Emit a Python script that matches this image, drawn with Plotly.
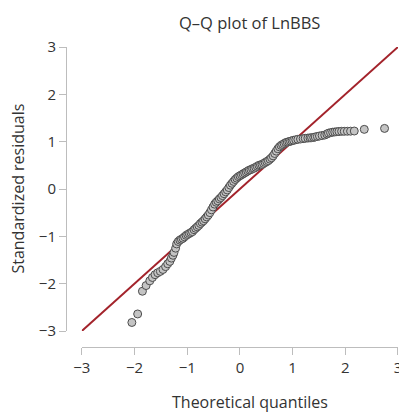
import plotly.graph_objects as go

# Theoretical quantiles (x) and standardized residuals (y)
theoretical = [-2.05, -1.94, -1.85, -1.78, -1.71, -1.66, -1.61, -1.56, -1.51, -1.46,
               -1.41, -1.37, -1.33, -1.30, -1.27, -1.25, -1.22, -1.20, -1.17, -1.14,
               -1.11, -1.08, -1.05, -1.02, -0.99, -0.96, -0.93, -0.90, -0.87, -0.84,
               -0.81, -0.78, -0.75, -0.72, -0.69, -0.66, -0.63, -0.60, -0.57, -0.54,
               -0.51, -0.48, -0.45, -0.42, -0.39, -0.36, -0.33, -0.30, -0.27, -0.24,
               -0.21, -0.18, -0.15, -0.12, -0.09, -0.06, -0.03, 0.00, 0.03, 0.06,
               0.09, 0.12, 0.15, 0.18, 0.21, 0.24, 0.27, 0.30, 0.33, 0.36,
               0.39, 0.42, 0.45, 0.48, 0.51, 0.54, 0.57, 0.60, 0.63, 0.66,
               0.69, 0.72, 0.75, 0.78, 0.81, 0.84, 0.87, 0.90, 0.93, 0.96,
               0.99, 1.02, 1.06, 1.10, 1.15, 1.20, 1.24, 1.29, 1.33, 1.36,
               1.40, 1.43, 1.47, 1.51, 1.56, 1.61, 1.65, 1.68, 1.72, 1.76,
               1.80, 1.84, 1.88, 1.93, 1.98, 2.04, 2.10, 2.17, 2.36, 2.745]
residuals = [-2.82, -2.64, -2.16, -2.04, -1.94, -1.87, -1.81, -1.77, -1.74, -1.70,
             -1.64, -1.58, -1.53, -1.46, -1.40, -1.34, -1.25, -1.16, -1.11, -1.08,
             -1.06, -1.04, -1.01, -0.98, -0.96, -0.94, -0.92, -0.90, -0.86, -0.83,
             -0.80, -0.77, -0.73, -0.70, -0.67, -0.63, -0.59, -0.55, -0.50, -0.44,
             -0.38, -0.32, -0.28, -0.25, -0.21, -0.18, -0.14, -0.10, -0.06, -0.02,
             0.03, 0.08, 0.12, 0.16, 0.20, 0.23, 0.26, 0.28, 0.30, 0.32,
             0.34, 0.36, 0.38, 0.40, 0.41, 0.43, 0.44, 0.46, 0.48, 0.50,
             0.51, 0.52, 0.54, 0.56, 0.58, 0.60, 0.63, 0.66, 0.70, 0.75,
             0.80, 0.85, 0.89, 0.92, 0.94, 0.96, 0.98, 0.99, 1.00, 1.01,
             1.02, 1.03, 1.04, 1.05, 1.056, 1.064, 1.071, 1.076, 1.08, 1.084,
             1.09, 1.10, 1.11, 1.12, 1.13, 1.14, 1.16, 1.18, 1.19, 1.20,
             1.205, 1.21, 1.215, 1.219, 1.219, 1.22, 1.222, 1.225, 1.26, 1.28]

ref_line = [-3, 3]
ticks = [-3, -2, -1, 0, 1, 2, 3]

title_text = "Q–Q plot of LnBBS"
x_title = "Theoretical quantiles"
y_title = "Standardized residuals"

FONT = "Open Sans, Noto Sans, sans-serif"
TXT = "#333333"
AXC = "#bdbdbd"

fig = go.Figure()
fig.add_trace(go.Scatter(x=ref_line, y=ref_line, mode="lines",
                         line=dict(color="#a3232b", width=2),
                         cliponaxis=False, hoverinfo="skip"))
fig.add_trace(go.Scatter(x=theoretical, y=residuals, mode="markers",
                         marker=dict(size=8, color="#c4c4c4",
                                     line=dict(color="#4d4d4d", width=1)),
                         cliponaxis=False))

fig.update_layout(
    width=399, height=408,
    margin=dict(l=58, r=5, t=39, b=69),
    paper_bgcolor="white", plot_bgcolor="white",
    showlegend=False,
    font=dict(family=FONT, color=TXT, size=15),
    xaxis=dict(domain=[16/336, 1], range=[-3, 3], anchor="free", position=0,
               showline=True, linecolor=AXC, linewidth=1,
               ticks="outside", ticklen=7, tickcolor=AXC, tickwidth=1,
               tickvals=ticks, showgrid=False, zeroline=False,
               tickfont=dict(size=15, color=TXT)),
    yaxis=dict(domain=[16/300, 1], range=[-3, 3], anchor="free", position=0,
               showline=True, linecolor=AXC, linewidth=1,
               ticks="outside", ticklen=7, tickcolor=AXC, tickwidth=1,
               tickvals=ticks, showgrid=False, zeroline=False,
               tickfont=dict(size=15, color=TXT)),
    annotations=[
        dict(text=title_text, x=(252-66)/336, y=(347-22)/300, xref="paper", yref="paper",
             showarrow=False, xanchor="center", yanchor="middle",
             font=dict(size=16.5, color=TXT, family=FONT)),
        dict(text=x_title, x=(252-66)/336, y=(347-402)/300, xref="paper", yref="paper",
             showarrow=False, xanchor="center", yanchor="middle",
             font=dict(size=16, color=TXT, family=FONT)),
        dict(text=y_title, x=(17-66)/336, y=(347-189)/300, xref="paper", yref="paper",
             showarrow=False, xanchor="center", yanchor="middle", textangle=-90,
             font=dict(size=16, color=TXT, family=FONT)),
    ],
)

fig.write_html("out.html")
